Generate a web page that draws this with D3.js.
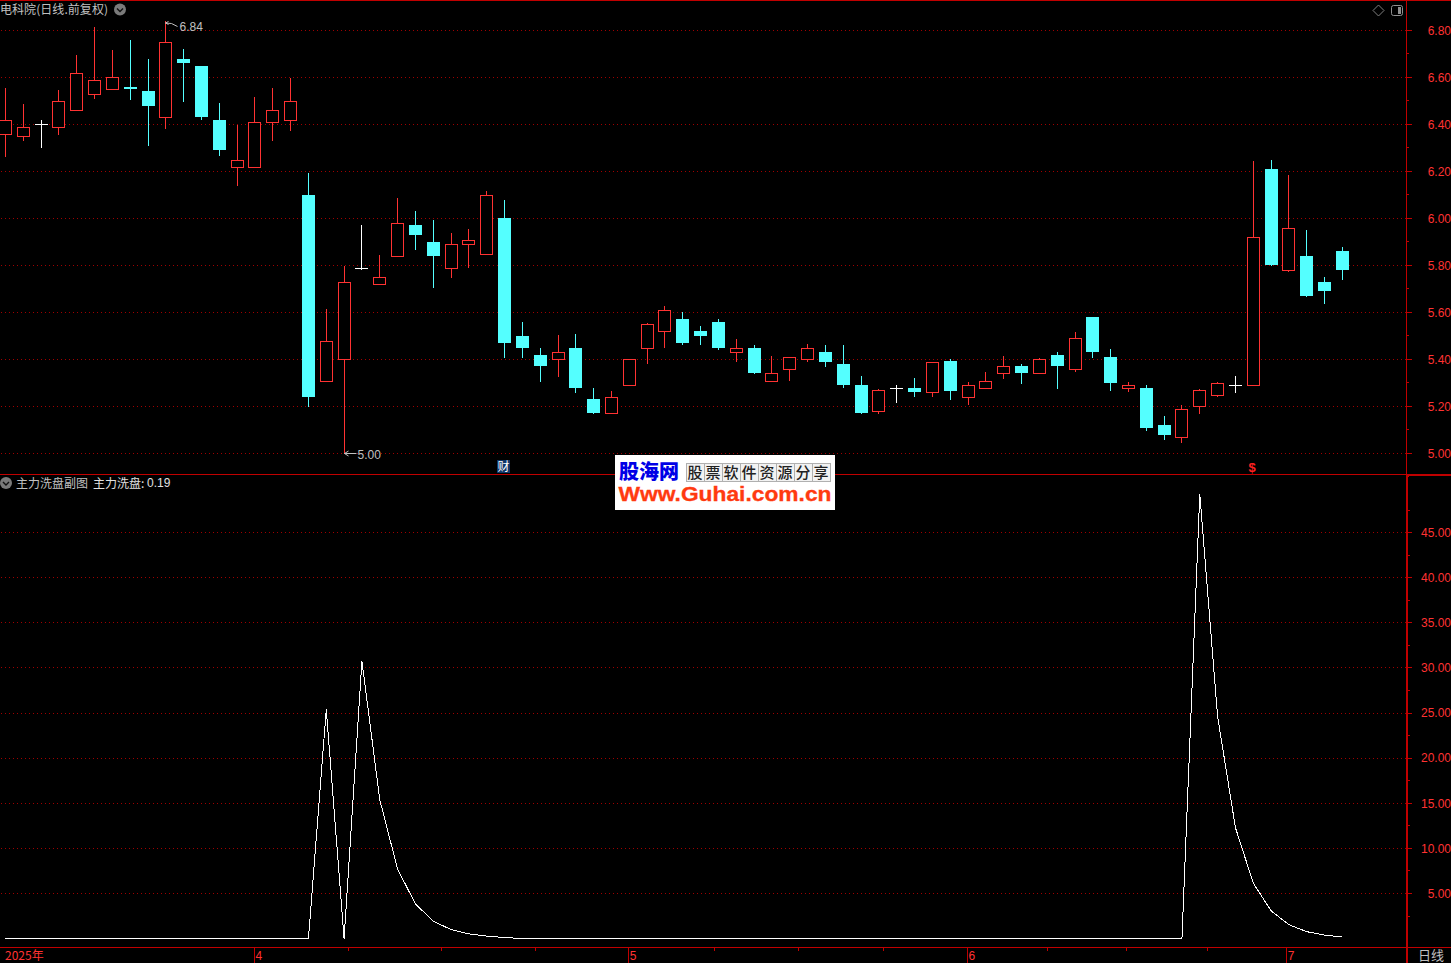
<!DOCTYPE html>
<html><head><meta charset="utf-8">
<style>html,body{margin:0;padding:0;background:#000;overflow:hidden}svg{display:block}text{white-space:pre}</style>
<script src="https://cdn.jsdelivr.net/npm/d3@7"></script></head>
<body><script>
const opens =[6.356,6.347,6.400,6.386,6.458,6.526,6.547,6.559,6.542,6.428,6.678,6.648,6.418,6.215,6.215,6.407,6.415,6.099,5.305,5.398,5.787,5.717,5.837,5.971,5.899,5.786,5.888,5.845,6.001,5.499,5.418,5.398,5.448,5.231,5.169,5.288,5.445,5.519,5.571,5.520,5.559,5.428,5.448,5.305,5.356,5.398,5.431,5.380,5.291,5.177,5.275,5.278,5.258,5.389,5.237,5.275,5.339,5.371,5.339,5.418,5.356,5.580,5.410,5.275,5.278,5.120,5.066,5.200,5.245,5.289,5.288,6.210,5.777,5.840,5.729,5.861];
const highs =[6.554,6.486,6.417,6.546,6.694,6.813,6.716,6.759,6.678,6.840,6.720,6.648,6.491,6.397,6.516,6.554,6.597,6.189,5.613,5.797,5.971,5.844,6.086,6.031,5.989,5.937,5.954,6.116,6.078,5.559,5.448,5.503,5.508,5.278,5.265,5.400,5.553,5.626,5.600,5.540,5.570,5.485,5.460,5.414,5.409,5.464,5.461,5.461,5.329,5.274,5.291,5.320,5.387,5.400,5.303,5.345,5.414,5.380,5.404,5.431,5.516,5.580,5.440,5.303,5.291,5.159,5.204,5.272,5.303,5.329,6.244,6.248,6.184,5.950,5.750,5.878];
const lows  =[6.262,6.330,6.300,6.359,6.458,6.509,6.547,6.508,6.309,6.381,6.499,6.420,6.269,6.142,6.215,6.330,6.372,5.201,5.305,5.000,5.781,5.717,5.837,5.869,5.708,5.750,5.789,5.845,5.410,5.410,5.308,5.329,5.261,5.171,5.169,5.288,5.381,5.449,5.462,5.462,5.441,5.390,5.342,5.305,5.309,5.390,5.371,5.279,5.171,5.171,5.218,5.240,5.240,5.231,5.210,5.275,5.320,5.299,5.339,5.278,5.350,5.410,5.269,5.262,5.099,5.061,5.048,5.171,5.240,5.261,5.288,5.801,5.773,5.669,5.640,5.742];
const closes=[6.417,6.387,6.400,6.498,6.617,6.587,6.600,6.550,6.478,6.749,6.661,6.431,6.291,6.247,6.409,6.460,6.498,5.240,5.477,5.728,5.787,5.749,5.979,5.929,5.840,5.889,5.906,6.098,5.469,5.448,5.371,5.430,5.278,5.171,5.238,5.400,5.549,5.609,5.469,5.499,5.448,5.447,5.342,5.340,5.409,5.447,5.389,5.291,5.171,5.268,5.275,5.261,5.387,5.261,5.289,5.306,5.370,5.342,5.400,5.371,5.489,5.431,5.299,5.289,5.108,5.078,5.187,5.268,5.298,5.289,5.919,5.801,5.957,5.669,5.691,5.780];
const washValues=[0,0,0,0,0,0,0,0,0,0,0,0,0,0,0,0,0,0,25.4,0,30.75,15.4,7.7,3.85,1.92,1.0,0.52,0.28,0.12,0,0,0,0,0,0,0,0,0,0,0,0,0,0,0,0,0,0,0,0,0,0,0,0,0,0,0,0,0,0,0,0,0,0,0,0,0,0,49.27,24.6,12.3,6.15,3.08,1.54,0.77,0.38,0.19];
const priceTicks=[5.0,5.2,5.4,5.6,5.8,6.0,6.2,6.4,6.6,6.8];
const priceMinor=[5.1,5.3,5.5,5.7,5.9,6.1,6.3,6.5,6.7,4.9];
const washTicks=[5,10,15,20,25,30,35,40,45];
const washMinor=[2.5,7.5,12.5,17.5,22.5,27.5,32.5,37.5,42.5,47.5];
const monthPos=[14,35,54,71.9];
const monthLabels=["4","5","6","7"];
const minorPos=[19.24,24.47,29.71,39.75,44.5,49.25,58.45,62.9,67.45];
const watermarkCells=["股","票","软","件","资","源","分","享"];

const W=1451,H=963,RED="#ff3232",AXIS="#c00000",GRID="#a00000",CYAN="#54ffff",GRAY="#c0c0c0";
const CJK="'Noto Sans CJK SC','DejaVu Sans',sans-serif", NUM="'Liberation Sans',Arial,sans-serif";
const svg=d3.select("body").append("svg").attr("width",W).attr("height",H);
svg.append("rect").attr("width",W).attr("height",H).attr("fill","#000");
const x=d3.scaleLinear().domain([0,75]).range([5.4,1342.4]);
const yP=d3.scaleLinear().domain([5,6.8]).range([453.4,30.4]);
const yW=d3.scaleLinear().domain([0,45]).range([938.6,532.6]);
const cx=i=>Math.floor(x(i));
const crisp=v=>Math.floor(v)+.5;
const idx=d3.range(opens.length);

// grid
const grid=svg.append("g").attr("stroke",GRID).attr("stroke-dasharray","1 3").attr("shape-rendering","crispEdges");
grid.selectAll(".p").data(priceTicks).join("line").attr("x1",1).attr("x2",1406).attr("y1",d=>crisp(yP(d))).attr("y2",d=>crisp(yP(d)));
grid.selectAll(".w").data(washTicks).join("line").attr("x1",1).attr("x2",1406).attr("y1",d=>crisp(yW(d))).attr("y2",d=>crisp(yW(d)));

// frame
const frame=svg.append("g").attr("stroke",AXIS).attr("shape-rendering","crispEdges");
frame.append("line").attr("x1",0).attr("x2",W).attr("y1",.5).attr("y2",.5);
frame.append("line").attr("x1",0).attr("x2",1407).attr("y1",474.5).attr("y2",474.5);
frame.append("line").attr("x1",1406).attr("x2",W).attr("y1",475).attr("y2",475).attr("stroke-width",2);
frame.append("line").attr("x1",0).attr("x2",W).attr("y1",947.5).attr("y2",947.5);
frame.append("line").attr("x1",1406.5).attr("x2",1406.5).attr("y1",0).attr("y2",474);
frame.append("line").attr("x1",1407).attr("x2",1407).attr("y1",474).attr("y2",H).attr("stroke-width",2);

// right axes
const axG=svg.append("g").attr("stroke",AXIS).attr("shape-rendering","crispEdges");
axG.selectAll(".a").data(priceTicks).join("line").attr("x1",1407).attr("x2",1412).attr("y1",d=>crisp(yP(d))).attr("y2",d=>crisp(yP(d)));
axG.selectAll(".b").data(priceMinor).join("line").attr("x1",1407).attr("x2",1409).attr("y1",d=>crisp(yP(d))).attr("y2",d=>crisp(yP(d)));
axG.selectAll(".c").data(washTicks).join("line").attr("x1",1407).attr("x2",1412).attr("y1",d=>crisp(yW(d))).attr("y2",d=>crisp(yW(d)));
axG.selectAll(".d").data(washMinor).join("line").attr("x1",1408).attr("x2",1410).attr("y1",d=>crisp(yW(d))).attr("y2",d=>crisp(yW(d)));
const lab=(data,y)=>svg.append("g").selectAll("text").data(data).join("text").attr("x",1451).attr("y",d=>y(d)).attr("dy","0.36em").attr("text-anchor","end").attr("fill",RED).attr("font-family",NUM).attr("font-size",12).text(d=>d.toFixed(2));
lab(priceTicks,yP);lab(washTicks,yW);

// bottom axis
const bot=svg.append("g").attr("stroke",AXIS).attr("shape-rendering","crispEdges");
bot.selectAll(".m").data(monthPos).join("line").attr("x1",d=>crisp(x(d)-.5)).attr("x2",d=>crisp(x(d)-.5)).attr("y1",947).attr("y2",H);
bot.selectAll(".n").data(minorPos).join("line").attr("x1",d=>crisp(x(d))).attr("x2",d=>crisp(x(d))).attr("y1",947).attr("y2",951);
svg.append("g").selectAll("text").data(monthLabels).join("text").attr("x",(d,i)=>x(monthPos[i])+.5).attr("y",960).attr("fill",RED).attr("font-family",NUM).attr("font-size",12).text(d=>d);
svg.append("text").attr("x",5).attr("y",960).attr("fill",RED).attr("font-family",CJK).attr("font-size",12).text("2025年");
svg.append("text").attr("x",1418).attr("y",960).attr("fill",GRAY).attr("font-family",CJK).attr("font-size",13).text("日线");

// candles
const cand=svg.append("g").attr("shape-rendering","crispEdges");
const colorOf=i=>closes[i]>opens[i]?RED:closes[i]<opens[i]?CYAN:"#fff";
cand.selectAll(".wick").data(idx).join("line").attr("x1",i=>cx(i)+.5).attr("x2",i=>cx(i)+.5)
  .attr("y1",i=>Math.floor(yP(highs[i]))).attr("y2",i=>Math.ceil(yP(lows[i]))).attr("stroke",colorOf);
cand.selectAll(".body").data(idx.filter(i=>closes[i]!==opens[i])).join("rect")
  .attr("x",i=>closes[i]>opens[i]?cx(i)-5.5:cx(i)-6)
  .attr("width",i=>closes[i]>opens[i]?12:13)
  .attr("y",i=>{const t=yP(Math.max(opens[i],closes[i]));return closes[i]>opens[i]?crisp(t):Math.floor(t)})
  .attr("height",i=>{const t=yP(Math.max(opens[i],closes[i])),b=yP(Math.min(opens[i],closes[i]));return closes[i]>opens[i]?Math.max(1,crisp(b)-crisp(t)):Math.max(2,Math.round(b-t))})
  .attr("fill",i=>closes[i]>opens[i]?"#000":CYAN)
  .attr("stroke",i=>closes[i]>opens[i]?RED:"none");
cand.selectAll(".doji").data(idx.filter(i=>closes[i]===opens[i])).join("line")
  .attr("x1",i=>cx(i)-6).attr("x2",i=>cx(i)+7).attr("y1",i=>crisp(yP(opens[i]))).attr("y2",i=>crisp(yP(opens[i]))).attr("stroke","#fff");

// high / low annotations
const hiIdx=d3.greatest(idx,i=>highs[i]), loIdx=d3.least(idx,i=>lows[i]);
const note=svg.append("g").attr("fill","none").attr("stroke",GRAY);
const hx=cx(hiIdx)+.5, hy=Math.floor(yP(highs[hiIdx]))+.5;
note.append("path").attr("d",`M${hx+3},${hy}L${hx},${hy+1.5}L${hx+3},${hy+3}M${hx},${hy+1.5}L${hx+6},${hy+2}L${hx+12},${hy+5}`);
svg.append("text").attr("x",hx+14).attr("y",hy+9.5).attr("fill",GRAY).attr("font-family",NUM).attr("font-size",12).text(highs[hiIdx].toFixed(2));
const lx=cx(loIdx)+.5, ly=crisp(yP(lows[loIdx]));
note.append("path").attr("d",`M${lx},${ly}L${lx+12},${ly}M${lx+4},${ly-2.5}L${lx},${ly}L${lx+4},${ly+2.5}`);
svg.append("text").attr("x",lx+13).attr("y",ly+5.5).attr("fill",GRAY).attr("font-family",NUM).attr("font-size",12).text(lows[loIdx].toFixed(2));

// line
svg.append("path").datum(washValues).attr("fill","none").attr("stroke","#fff").attr("stroke-width",1).attr("shape-rendering","crispEdges")
  .attr("d",d3.line().x((d,i)=>x(i)).y(d=>yW(d)));

// header text
svg.append("text").attr("x",0).attr("y",14).attr("fill",GRAY).attr("font-family",CJK).attr("font-size",12).attr("textLength",108).text("电科院(日线.前复权)");
const chevron=(cxv,cyv)=>{
  svg.append("circle").attr("cx",cxv).attr("cy",cyv).attr("r",6).attr("fill","#7a7a7a");
  svg.append("path").attr("d",`M${cxv-3},${cyv-1}L${cxv},${cyv+2}L${cxv+3},${cyv-1}`).attr("fill","none").attr("stroke","#111").attr("stroke-width",1.4);
};
chevron(120,9.5);chevron(6,483);
svg.append("text").attr("x",16).attr("y",488).attr("fill",GRAY).attr("font-family",CJK).attr("font-size",12).text("主力洗盘副图");
svg.append("text").attr("x",93).attr("y",488).attr("fill","#e0e0e0").attr("font-family",CJK).attr("font-size",12).text("主力洗盘:");
svg.append("text").attr("x",147).attr("y",487).attr("fill","#e0e0e0").attr("font-family",NUM).attr("font-size",12).text(washValues[washValues.length-1].toFixed(2));

// top right icons
svg.append("path").attr("d","M1378.5,5L1384,10.5L1378.5,16L1373,10.5Z").attr("fill","none").attr("stroke","#808080");
svg.append("rect").attr("x",1391.5).attr("y",5.5).attr("width",11).attr("height",10).attr("rx",2).attr("fill","none").attr("stroke","#909090");
svg.append("rect").attr("x",1398).attr("y",7).attr("width",3).attr("height",7).attr("fill","#909090");

// badges
svg.append("rect").attr("x",497).attr("y",460).attr("width",13).attr("height",13).attr("fill","#0f3568");
svg.append("text").attr("x",503.5).attr("y",471).attr("text-anchor","middle").attr("fill","#fff").attr("font-family",CJK).attr("font-size",12).text("财");
svg.append("text").attr("x",1252).attr("y",472).attr("text-anchor","middle").attr("fill","#ff2020").attr("font-family",NUM).attr("font-weight","bold").attr("font-size",13).text("$");

// watermark
const wm=svg.append("g");
wm.append("rect").attr("x",615).attr("y",455).attr("width",220).attr("height",55).attr("fill","#fff");
wm.append("text").attr("x",619).attr("y",479).attr("fill","#0000e6").attr("font-family",CJK).attr("font-weight","900").attr("font-size",20).text("股海网");
const cellX=d3.scaleBand().domain(d3.range(watermarkCells.length)).range([686,830]);
wm.selectAll("rect.c").data(watermarkCells).join("rect").attr("class","c").attr("x",(d,i)=>cellX(i)+.5).attr("y",463.5).attr("width",cellX.bandwidth()).attr("height",18).attr("fill","#f2f2f2").attr("stroke","#b0b0b0").attr("shape-rendering","crispEdges");
wm.selectAll("text.c").data(watermarkCells).join("text").attr("class","c").attr("x",(d,i)=>cellX(i)+cellX.bandwidth()/2).attr("y",478).attr("text-anchor","middle").attr("fill","#222").attr("font-family",CJK).attr("font-weight","500").attr("font-size",15).text(d=>d);
wm.append("text").attr("x",618.5).attr("y",501).attr("fill","#ff3a10").attr("font-family",NUM).attr("font-weight","bold").attr("font-size",19.5).attr("stroke","#ff3a10").attr("stroke-width",.3).attr("textLength",213).attr("lengthAdjust","spacingAndGlyphs").text("Www.Guhai.com.cn");
</script></body></html>
